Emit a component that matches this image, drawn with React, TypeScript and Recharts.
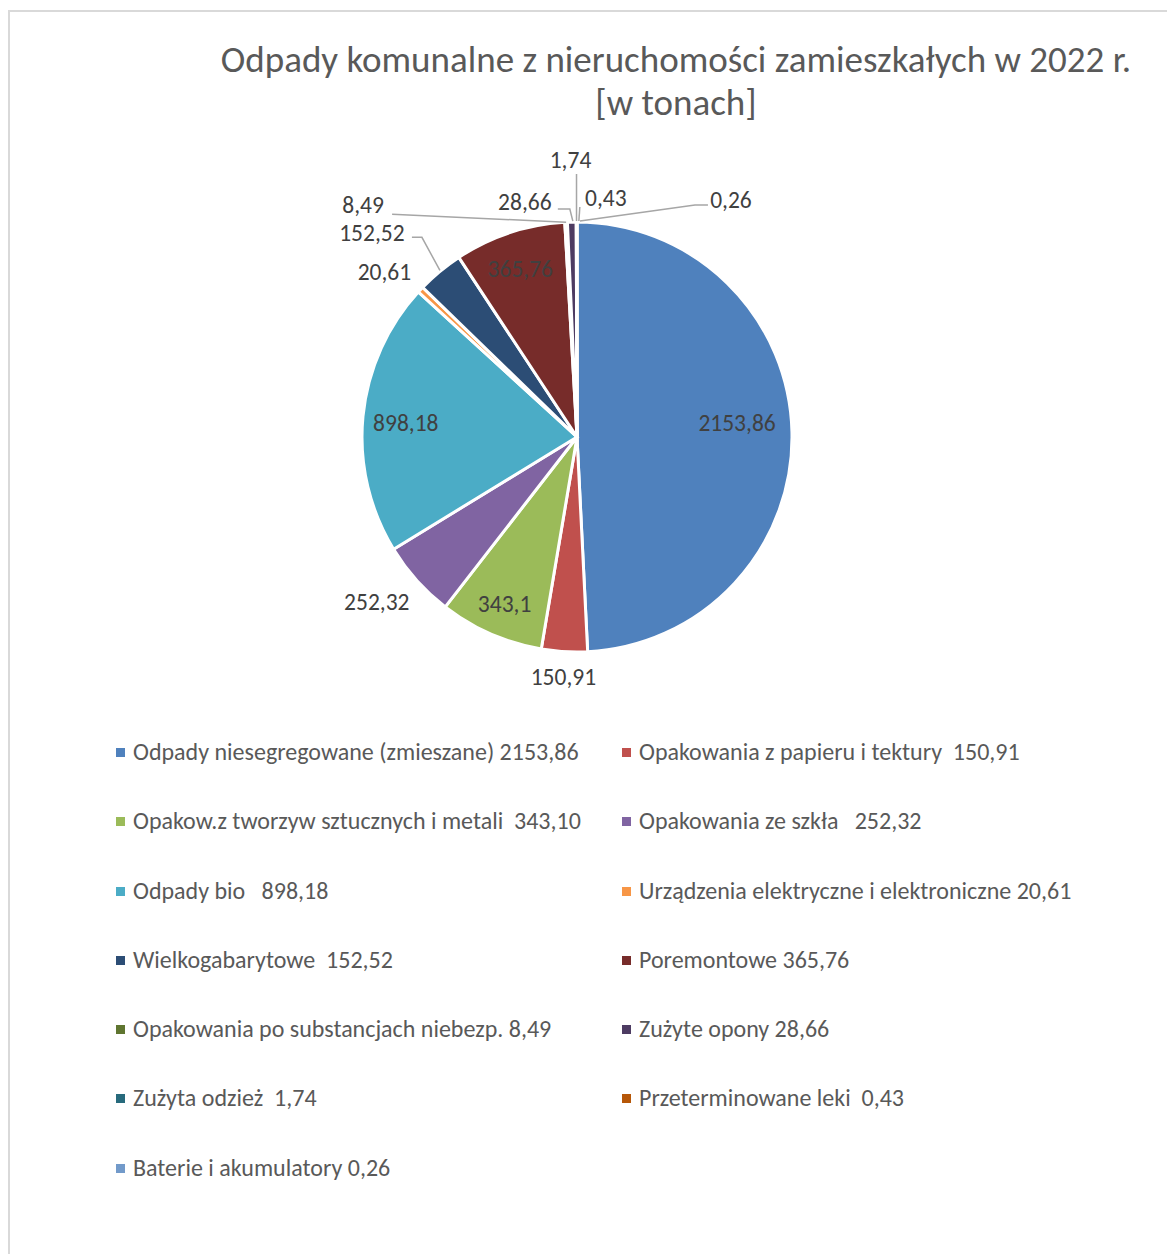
import React from "react";
import { PieChart, Pie, Cell, Legend } from "recharts";

const TITLE = "Odpady komunalne z nieruchomości zamieszkałych w 2022 r.";
const SUBTITLE = "[w tonach]";

const categories = [
  "Odpady niesegregowane (zmieszane) 2153,86",
  "Opakowania z papieru i tektury  150,91",
  "Opakow.z tworzyw sztucznych i metali  343,10",
  "Opakowania ze szkła   252,32",
  "Odpady bio   898,18",
  "Urządzenia elektryczne i elektroniczne 20,61",
  "Wielkogabarytowe  152,52",
  "Poremontowe 365,76",
  "Opakowania po substancjach niebezp. 8,49",
  "Zużyte opony 28,66",
  "Zużyta odzież  1,74",
  "Przeterminowane leki  0,43",
  "Baterie i akumulatory 0,26",
];

const tonnes = [
  2153.86, 150.91, 343.1, 252.32, 898.18, 20.61, 152.52, 365.76, 8.49, 28.66,
  1.74, 0.43, 0.26,
];

const COLORS = [
  "#4F81BD",
  "#C0504D",
  "#9BBB59",
  "#8064A2",
  "#4BACC6",
  "#F79646",
  "#2C4D75",
  "#772C2A",
  "#5F7530",
  "#4D3B62",
  "#276A7C",
  "#B65708",
  "#729ACA",
];

// label placement: rf = radius factor of anchor, dx/dy = text offset from anchor,
// leader = polyline points relative to the anchor (Excel-style leader lines)
type LabelPos = { rf: number; dx: number; dy: number; leader?: number[][] };
const LABEL_POS: LabelPos[] = [
  { rf: 0.74, dx: 1, dy: -10 },
  { rf: 1, dx: -1, dy: 25 },
  { rf: 0.85, dx: 1, dy: 0 },
  { rf: 1, dx: -40, dy: 22 },
  { rf: 0.8, dx: 0, dy: 2 },
  { rf: 1, dx: -36, dy: -18 },
  { rf: 1, dx: -68, dy: -38, leader: [[0, -1], [-18, -34], [-28, -34]] },
  { rf: 0.825, dx: -1, dy: 0 },
  { rf: 1, dx: -203, dy: -17, leader: [[0, 0], [-174, -8]] },
  { rf: 1, dx: -47, dy: -20, leader: [[1, -1], [-2, -13], [-14, -13]] },
  { rf: 1, dx: -6, dy: -62, leader: [[0, -1], [0, -48]] },
  { rf: 1, dx: 29, dy: -24, leader: [[2, -1], [3, -15]] },
  { rf: 1, dx: 154, dy: -22, leader: [[3, -1], [118, -17], [131, -17]] },
];

const data = categories.map((name, i) => ({ name, value: tonnes[i] }));

const FONT = "Carlito, Lato, 'Open Sans', sans-serif";
const RADIAN = Math.PI / 180;

const fmt = (v: number) => String(v).replace(".", ",");

const renderLabel = (props: any) => {
  const { cx, cy, midAngle, outerRadius, index, value } = props;
  const pos = LABEL_POS[index];
  const r = outerRadius * pos.rf;
  const ax = cx + r * Math.cos(-midAngle * RADIAN);
  const ay = cy + r * Math.sin(-midAngle * RADIAN);
  return (
    <g key={`lbl-${index}`}>
      {pos.leader && (
        <polyline
          points={pos.leader.map(([x, y]) => `${ax + x},${ay + y}`).join(" ")}
          fill="none"
          stroke="#A6A6A6"
          strokeWidth={1.5}
        />
      )}
      <text
        x={ax + pos.dx}
        y={ay + pos.dy}
        textAnchor="middle"
        dominantBaseline="central"
        fill="#404040"
        fontSize={23.5}
        fontFamily={FONT}
      >
        {fmt(value)}
      </text>
    </g>
  );
};

// legend keeps the series order (Recharts would sort pie legend items by name)
const LegendGrid = () => (
  <div
    style={{
      display: "grid",
      gridTemplateColumns: "506px 500px",
      fontFamily: FONT,
      fontSize: 24,
      color: "#595959",
    }}
  >
    {data.map((d, i) => (
      <div
        key={i}
        style={{
          height: 69.3,
          display: "flex",
          alignItems: "flex-start",
          whiteSpace: "pre",
        }}
      >
        <span
          style={{
            width: 9,
            height: 9,
            background: COLORS[i],
            display: "inline-block",
            marginTop: 10,
            marginRight: 8,
            flexShrink: 0,
          }}
        />
        <span style={{ lineHeight: "28px" }}>{d.name}</span>
      </div>
    ))}
  </div>
);

export default function App() {
  return (
    <div
      style={{
        position: "relative",
        marginTop: 2,
        width: 1165,
        height: 1242,
        borderTop: "2px solid #D9D9D9",
        borderLeft: "2px solid #D9D9D9",
        background: "#fff",
        overflow: "hidden",
      }}
    >
      <div
        style={{
          position: "absolute",
          left: 206,
          width: 920,
          top: 26,
          textAlign: "center",
          fontFamily: FONT,
          fontSize: 37,
          lineHeight: "43px",
          color: "#595959",
          whiteSpace: "nowrap",
        }}
      >
        <div>{TITLE}</div>
        <div>{SUBTITLE}</div>
      </div>
      <PieChart
        width={1165}
        height={1242}
        margin={{ top: 0, right: 0, bottom: 0, left: 0 }}
      >
        <Pie
          data={data}
          dataKey="value"
          nameKey="name"
          cx={567}
          cy={425}
          outerRadius={215}
          startAngle={90}
          endAngle={-270}
          stroke="#FFFFFF"
          strokeWidth={3}
          label={renderLabel}
          labelLine={false}
          isAnimationActive={false}
        >
          {data.map((_, i) => (
            <Cell key={i} fill={COLORS[i]} />
          ))}
        </Pie>
        <Legend
          content={<LegendGrid />}
          wrapperStyle={{ position: "absolute", left: 106, top: 726, width: 1010 }}
        />
      </PieChart>
    </div>
  );
}
